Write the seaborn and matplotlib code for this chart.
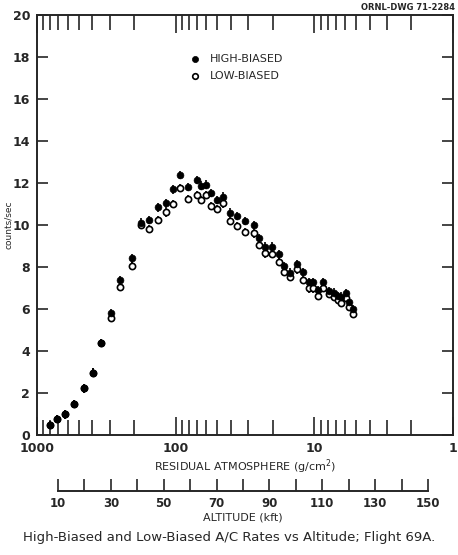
import numpy as np
import pandas as pd
import seaborn as sns
import matplotlib.pyplot as plt
from matplotlib.ticker import LogLocator, NullFormatter, FixedLocator

# residual atmosphere (g/cm^2) and counting rates
pressure = [808, 714, 628, 543, 462, 397, 345, 295, 252, 208,
            178, 156, 135, 117, 105, 92.5, 81.3, 70.6, 66.0, 60.1,
            55.2, 50.5, 45.2, 40.6, 36.1, 31.4, 27.3, 25.1, 22.5, 20.2,
            18.0, 16.5, 15.0, 13.4, 12.0, 10.9, 10.2, 9.46, 8.63, 7.87,
            7.23, 6.76, 6.46, 5.94, 5.62, 5.22]
high_biased = [0.48, 0.75, 0.98, 1.49, 2.22, 2.97, 4.37, 5.79, 7.38, 8.41,
               10.11, 10.24, 10.84, 11.03, 11.70, 12.38, 11.81, 12.14, 11.88, 11.92,
               11.51, 11.19, 11.35, 10.59, 10.43, 10.19, 10.0, 9.37, 8.97, 8.97,
               8.6, 8.06, 7.73, 8.13, 7.75, 7.27, 7.27, 6.9, 7.3, 6.87,
               6.78, 6.62, 6.59, 6.75, 6.35, 5.99]
low_biased = [0.48, 0.75, 0.98, 1.49, 2.22, 2.97, 4.37, 5.56, 7.06, 8.05,
              10.0, 9.80, 10.24, 10.6, 11.0, 11.76, 11.25, 11.43, 11.19, 11.43,
              10.9, 10.75, 11.03, 10.2, 9.95, 9.68, 9.6, 9.05, 8.65, 8.62,
              8.25, 7.78, 7.51, 7.89, 7.38, 6.98, 6.98, 6.62, 7.01, 6.71,
              6.56, 6.43, 6.3, 6.51, 6.11, 5.76]
rate_err = 0.2

x_ticks = [1000, 100, 10, 1]
y_ticks = list(range(0, 21, 2))
alt_ticks = list(range(10, 151, 10))
alt_labels = list(range(10, 151, 20))

sns.set_style('ticks')
plt.rcParams['font.family'] = ['DejaVu Sans']

df = pd.DataFrame({'pressure': pressure, 'high': high_biased, 'low': low_biased})

fig = plt.figure(figsize=(4.58, 5.55), dpi=100)
ax = fig.add_axes([37 / 458, 120 / 555, 416 / 458, 420 / 555])

###################
## data
###################
ax.errorbar(df['pressure'], df['low'], yerr=rate_err, fmt='none', ecolor='black', elinewidth=1.2, zorder=2)
ax.errorbar(df['pressure'], df['high'], yerr=rate_err, fmt='none', ecolor='black', elinewidth=1.2, zorder=3)
sns.scatterplot(data=df, x='pressure', y='low', ax=ax, marker='o', s=20,
                facecolor='white', edgecolor='black', linewidth=1.2, zorder=4, label='LOW-BIASED')
sns.scatterplot(data=df, x='pressure', y='high', ax=ax, marker='o', s=24,
                color='black', edgecolor='black', linewidth=0.5, zorder=5, label='HIGH-BIASED')

ax.set_xscale('log')
ax.set_xlim(1000, 1)
ax.set_ylim(0, 20)

ax.xaxis.set_major_locator(FixedLocator(x_ticks))
ax.xaxis.set_minor_locator(LogLocator(base=10, subs=np.arange(2, 10)))
ax.xaxis.set_minor_formatter(NullFormatter())
ax.set_xticklabels([str(t) for t in x_ticks])
ax.set_yticks(y_ticks)

ax.tick_params(axis='both', which='both', direction='in', top=True, right=True,
               width=1.2, labelsize=9, pad=5)
ax.tick_params(axis='x', which='major', length=13)
ax.tick_params(axis='x', which='minor', length=11)
ax.tick_params(axis='y', which='major', length=8)
for lab in ax.get_xticklabels() + ax.get_yticklabels():
    lab.set_fontweight('bold')
for sp in ax.spines.values():
    sp.set_linewidth(1.4)

ax.set_xlabel('RESIDUAL ATMOSPHERE (g/cm$^2$)', fontsize=8, labelpad=2)
ax.set_ylabel('counts/sec', fontsize=6.5)
ax.yaxis.set_label_coords(-0.058, 0.5)

handles, labels = ax.get_legend_handles_labels()
ax.legend(handles[::-1], labels[::-1], loc='upper left', bbox_to_anchor=(0.33, 0.93),
          frameon=False, fontsize=8, handletextpad=0.3, labelspacing=0.6, markerscale=0.9)

###################
## altitude scale
###################
alt = fig.add_axes([58 / 458, 64 / 555, 370 / 458, 0.001])
alt.set_xlim(10, 150)
alt.set_yticks([])
for side in ['top', 'left', 'right']:
    alt.spines[side].set_visible(False)
alt.spines['bottom'].set_linewidth(1.4)
alt.set_xticks(alt_ticks)
alt.set_xticklabels([str(t) if t in alt_labels else '' for t in alt_ticks])
alt.tick_params(axis='x', direction='in', length=9, width=1.2, labelsize=8.5, pad=4)
for lab in alt.get_xticklabels():
    lab.set_fontweight('bold')
alt.set_xlabel('ALTITUDE (kft)', fontsize=8, labelpad=2)
alt.set_facecolor('none')

fig.text(455 / 458, 1 - 7 / 555, 'ORNL-DWG 71-2284', ha='right', va='center', fontsize=6, fontweight='bold')
fig.text(0.5, 1 - 538 / 555, 'High-Biased and Low-Biased A/C Rates vs Altitude; Flight 69A.',
         ha='center', va='center', fontsize=9.5)

plt.savefig('out.png', dpi=100)
plt.close()
